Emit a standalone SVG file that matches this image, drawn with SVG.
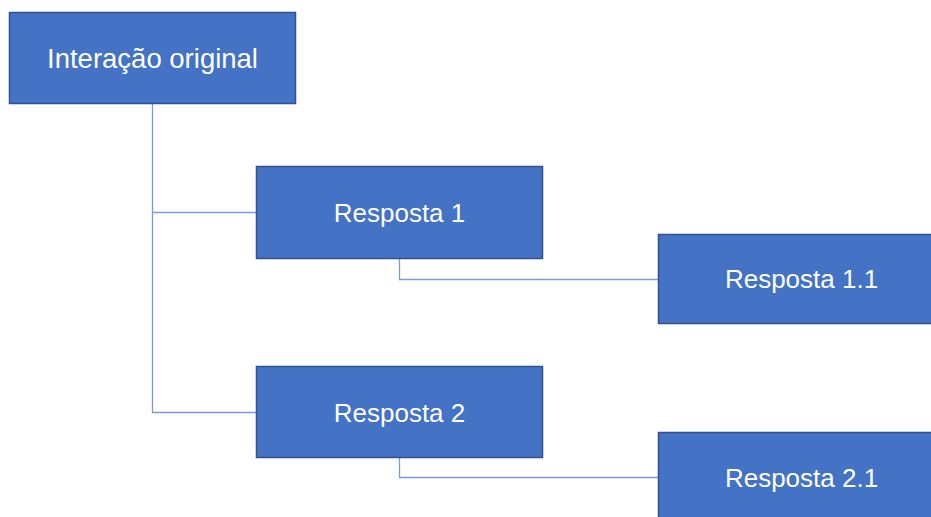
<svg xmlns="http://www.w3.org/2000/svg" width="931" height="517" viewBox="0 0 931 517">
  <style>
    .box { fill: #4472C4; stroke: #2F528F; stroke-width: 1.5; }
    .label { fill: #FFFFFF; font-family: "Liberation Sans", Arial, sans-serif; font-size: 26px; text-anchor: middle; dominant-baseline: central; }
    .label-wide { font-size: 27.5px; }
    .link { fill: none; stroke: #7C9BD6; stroke-width: 1.3; }
  </style>
  <rect width="931" height="517" fill="#FFFFFF"/>

  <!-- tree connectors -->
  <g id="connectors">
    <path class="link" d="M152.5 104 V412.5 H256"/>
    <path class="link" d="M152.5 212.5 H256"/>
    <path class="link" d="M399.5 259 V279.5 H658"/>
    <path class="link" d="M399.5 458 V477.5 H658"/>
  </g>

  <g id="node-root">
    <rect class="box" x="9.5" y="12.5" width="286" height="91"/>
    <text class="label label-wide" x="152.5" y="58">Interação original</text>
  </g>

  <g id="node-r1">
    <rect class="box" x="256.5" y="166.5" width="286" height="92"/>
    <text class="label" x="399.5" y="212.5">Resposta 1</text>
  </g>

  <g id="node-r11">
    <rect class="box" x="658.5" y="234.5" width="286" height="89"/>
    <text class="label" x="801.5" y="279">Resposta 1.1</text>
  </g>

  <g id="node-r2">
    <rect class="box" x="256.5" y="366.5" width="286" height="91"/>
    <text class="label" x="399.5" y="412.5">Resposta 2</text>
  </g>

  <g id="node-r21">
    <rect class="box" x="658.5" y="432.5" width="286" height="92"/>
    <text class="label" x="801.5" y="478">Resposta 2.1</text>
  </g>
</svg>
